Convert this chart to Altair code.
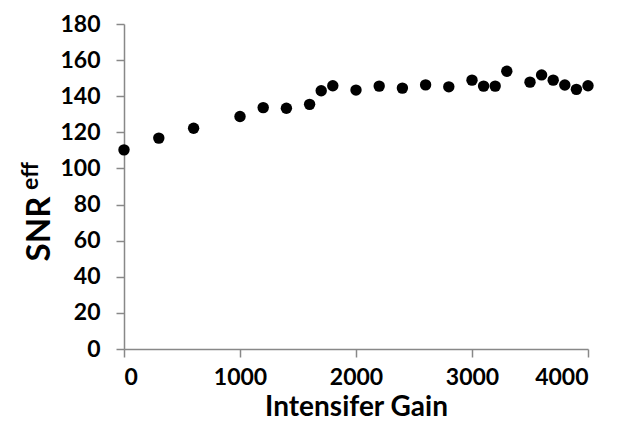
import altair as alt
import pandas as pd

gain = [0, 300, 600, 1000, 1200, 1400, 1600, 1700, 1800, 2000, 2200, 2400,
        2600, 2800, 3000, 3100, 3200, 3300, 3500, 3600, 3700, 3800, 3900, 4000]
snr = [110.3, 116.8, 122.3, 128.8, 133.7, 133.3, 135.5, 143.0, 145.8, 143.4, 145.6, 144.5,
       146.3, 145.2, 148.9, 145.6, 145.6, 153.8, 147.8, 151.8, 148.9, 146.2, 143.8, 145.8]
x_ticks = [0, 1000, 2000, 3000, 4000]
y_ticks = list(range(0, 181, 20))

df = pd.DataFrame({"gain": gain, "snr": snr})

FONT = "Lato"

points = alt.Chart(df).mark_circle(size=130, color="black", opacity=1).encode(
    x=alt.X("gain:Q", scale=alt.Scale(domain=[0, 4000], nice=False),
            axis=alt.Axis(values=x_ticks, title="Intensifer Gain", labelPadding=9,
                          titlePadding=4, format="d")),
    y=alt.Y("snr:Q", scale=alt.Scale(domain=[0, 180], nice=False),
            axis=alt.Axis(values=y_ticks, title=None, labelPadding=16)),
)

title_df = pd.DataFrame({"t": ["SNR"], "s": ["eff"]})
snr_text = alt.Chart(title_df).mark_text(
    angle=270, font=FONT, fontWeight="bold", fontSize=33, color="black",
    align="center", baseline="middle"
).encode(text="t:N", x=alt.value(-84), y=alt.value(205))
eff_text = alt.Chart(title_df).mark_text(
    angle=270, font=FONT, fontWeight="bold", fontSize=23, color="black",
    align="center", baseline="middle"
).encode(text="s:N", x=alt.value(-93), y=alt.value(152))

chart = alt.layer(points, snr_text, eff_text).properties(
    width=464, height=325,
    autosize=alt.AutoSizeParams(type="none"),
    padding={"left": 116, "top": 16, "right": 12, "bottom": 73},
).configure_view(stroke=None).configure_axis(
    grid=False,
    domainColor="#888888", domainWidth=1.5,
    tickColor="#888888", tickWidth=1.5, tickSize=8,
    labelFont=FONT, labelFontWeight="bold", labelFontSize=23, labelColor="black",
    titleFont=FONT, titleFontWeight="bold", titleFontSize=28, titleColor="black",
)

chart.save("out.html", embed_options={"renderer": "svg", "actions": False})
